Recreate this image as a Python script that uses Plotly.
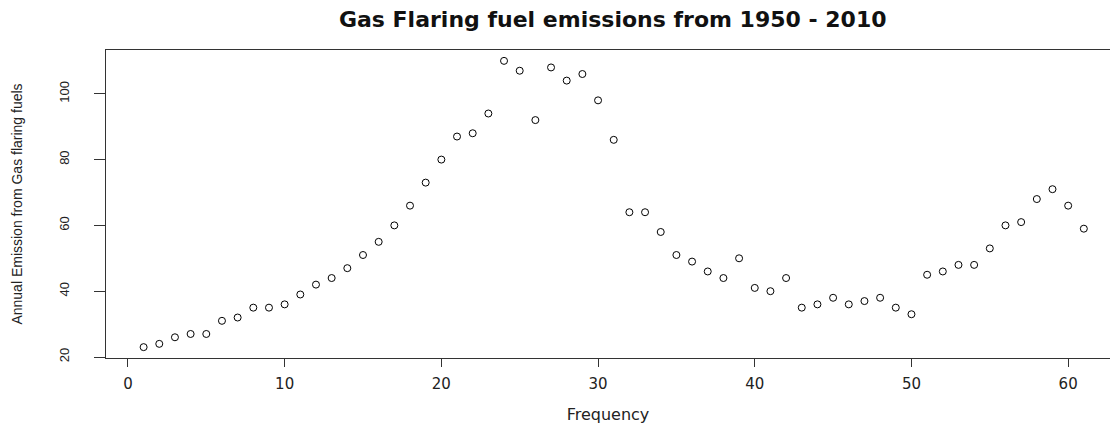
import plotly.graph_objects as go

# Index of each observation (1950 -> 1, ..., 2010 -> 61)
frequency = list(range(1, 62))

# Annual emission from gas flaring fuels
emission = [
    23, 24, 26, 27, 27, 31, 32, 35, 35, 36,
    39, 42, 44, 47, 51, 55, 60, 66, 73, 80,
    87, 88, 94, 110, 107, 92, 108, 104, 106, 98,
    86, 64, 64, 58, 51, 49, 46, 44, 50, 41,
    40, 44, 35, 36, 38, 36, 37, 38, 35, 33,
    45, 46, 48, 48, 53, 60, 61, 68, 71, 66,
    59,
]

x_ticks = [0, 10, 20, 30, 40, 50, 60]
y_ticks = [20, 40, 60, 80, 100]

fig = go.Figure(
    go.Scatter(
        x=frequency,
        y=emission,
        mode="markers",
        marker=dict(symbol="circle-open", size=7, color="black",
                    line=dict(width=1, color="black")),
        showlegend=False,
        hoverinfo="x+y",
    )
)

wide_font = dict(family="DejaVu Sans, sans-serif", size=15, color="#222")
narrow_font = dict(family="Liberation Sans, Arial, sans-serif", size=13, color="#222")

fig.update_layout(
    width=1110,
    height=427,
    margin=dict(l=106, r=0, t=50, b=69),
    paper_bgcolor="white",
    plot_bgcolor="white",
    title=dict(
        text="<b>Gas Flaring fuel emissions from 1950 - 2010</b>",
        x=0.552, xanchor="center",
        y=0.955, yanchor="middle",
        font=dict(family="DejaVu Sans, sans-serif", size=22, color="#111"),
    ),
    xaxis=dict(
        range=[-1.4, 62.67],
        tickvals=x_ticks,
        ticks="outside", ticklen=8, tickwidth=1, tickcolor="#333",
        ticklabelstandoff=4,
        showline=True, linecolor="#333", linewidth=1, mirror=True,
        showgrid=False, zeroline=False,
        tickfont=wide_font,
        title=dict(text="Frequency",
                   font=dict(family="DejaVu Sans, sans-serif", size=16, color="#222"),
                   standoff=16),
    ),
    yaxis=dict(
        range=[19.7, 113.3],
        tickvals=y_ticks,
        tickangle=-90,
        ticks="outside", ticklen=11, tickwidth=1, tickcolor="#333",
        ticklabelstandoff=20,
        showline=True, linecolor="#333", linewidth=1, mirror=False,
        showgrid=False, zeroline=False,
        tickfont=narrow_font,
        title=dict(text="Annual Emission from Gas flaring fuels",
                   font=dict(family="Liberation Sans Narrow, Liberation Sans, Arial, sans-serif",
                             size=14, color="#222"),
                   standoff=30),
    ),
)

fig.write_html("out.html")
